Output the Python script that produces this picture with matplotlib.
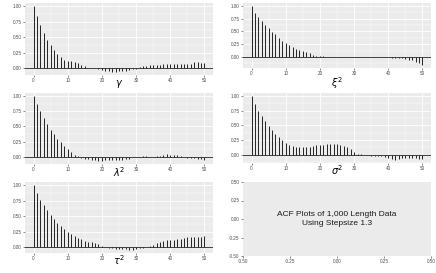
import matplotlib
matplotlib.use("Agg")
import matplotlib.pyplot as plt
import numpy as np

plt.rcParams['font.family'] = ['Liberation Sans', 'DejaVu Sans']

lags = list(range(51))

acf_gamma = [1.0, 0.85, 0.70, 0.565, 0.45, 0.37, 0.30, 0.235, 0.18, 0.14,
             0.115, 0.12, 0.10, 0.08, 0.055, 0.03, 0.005, 0.003, 0.0, -0.015,
             -0.03, -0.04, -0.05, -0.055, -0.055, -0.05, -0.045, -0.04, -0.03, -0.015,
             -0.005, 0.02, 0.03, 0.045, 0.05, 0.055, 0.055, 0.06, 0.065, 0.065,
             0.065, 0.065, 0.065, 0.065, 0.065, 0.065, 0.075, 0.10, 0.10, 0.09,
             0.08]

acf_xi2 = [1.0, 0.87, 0.78, 0.70, 0.62, 0.56, 0.49, 0.44, 0.38, 0.32,
           0.28, 0.235, 0.19, 0.16, 0.13, 0.115, 0.09, 0.07, 0.045, 0.025,
           0.02, 0.015, 0.0, -0.005, -0.01, -0.005, 0.002, 0.003, 0.003, 0.004,
           0.005, 0.005, 0.005, 0.004, 0.003, 0.002, 0.0, -0.003, -0.005, -0.01,
           -0.01, -0.015, -0.02, -0.025, -0.03, -0.045, -0.055, -0.07, -0.095, -0.12,
           -0.16]

acf_lambda2 = [1.0, 0.874, 0.75, 0.64, 0.54, 0.445, 0.37, 0.30, 0.235, 0.18,
               0.125, 0.08, 0.035, 0.005, -0.017, -0.035, -0.045, -0.057, -0.063, -0.068,
               -0.068, -0.063, -0.063, -0.063, -0.063, -0.057, -0.057, -0.045, -0.035, -0.01,
               0.0, 0.002, 0.003, 0.003, 0.002, 0.0, 0.003, 0.01, 0.03, 0.04,
               0.035, 0.035, 0.03, 0.015, 0.0, -0.017, -0.025, -0.03, -0.035, -0.045,
               -0.057]

acf_sigma2 = [1.0, 0.87, 0.75, 0.655, 0.57, 0.485, 0.415, 0.357, 0.30, 0.245,
              0.205, 0.172, 0.148, 0.134, 0.128, 0.123, 0.123, 0.126, 0.14, 0.158,
              0.167, 0.172, 0.178, 0.187, 0.186, 0.183, 0.17, 0.146, 0.123, 0.09,
              0.052, 0.02, 0.003, 0.0, -0.005, -0.018, -0.018, -0.018, -0.023, -0.035,
              -0.053, -0.07, -0.088, -0.076, -0.064, -0.053, -0.058, -0.058, -0.064, -0.07,
              -0.076]

acf_tau2 = [1.0, 0.876, 0.763, 0.672, 0.593, 0.525, 0.452, 0.39, 0.34, 0.294,
            0.25, 0.213, 0.184, 0.152, 0.124, 0.10, 0.085, 0.073, 0.068, 0.05,
            0.023, 0.005, -0.017, -0.023, -0.028, -0.028, -0.034, -0.04, -0.045, -0.045,
            -0.04, -0.023, -0.011, 0.0, 0.017, 0.034, 0.062, 0.08, 0.10, 0.113,
            0.12, 0.12, 0.13, 0.136, 0.147, 0.158, 0.164, 0.164, 0.158, 0.164,
            0.17]

labels = [r'$\gamma$', r'$\xi^2$', r'$\lambda^2$', r'$\sigma^2$', r'$\tau^2$']
series = [acf_gamma, acf_xi2, acf_lambda2, acf_sigma2, acf_tau2]

note_text = "ACF Plots of 1,000 Length Data\nUsing Stepsize 1.3"
empty_ticks = [-0.50, -0.25, 0.00, 0.25, 0.50]

W, H = 436, 273
fig = plt.figure(figsize=(W / 100, H / 100), dpi=100)

# panel boxes in pixels: (left, top, right, bottom)
boxes = [(25, 3, 213, 75), (243, 3, 431, 68),
         (25, 93, 213, 164), (243, 93, 431, 163),
         (25, 182, 213, 253), (243, 182, 431, 256)]
# pixel y of label centres
label_y = [84, 83, 172, 170, 260]

def make_ax(b):
    l, t, r, bt = b
    return fig.add_axes([l / W, 1 - bt / H, (r - l) / W, (bt - t) / H])

def style(ax):
    ax.set_facecolor('#EBEBEB')
    for s in ax.spines.values():
        s.set_visible(False)
    ax.tick_params(axis='both', which='major', length=1.5, width=0.4,
                   color='#333333', labelsize=3.3, labelcolor='#4D4D4D', pad=1)
    ax.tick_params(axis='both', which='minor', length=0)

for i, (lab, vals) in enumerate(zip(labels, series)):
    ax = make_ax(boxes[i])
    style(ax)
    v = np.array(vals)
    lo = min(0.0, v.min())
    hi = max(0.0, v.max())
    pad = 0.05 * (hi - lo)
    ax.set_ylim(lo - pad, hi + pad)
    ax.set_xlim(-2.5, 52.5)
    ax.set_xticks([0, 10, 20, 30, 40, 50])
    ax.set_xticks([5, 15, 25, 35, 45], minor=True)
    yt = [t for t in [-0.25, 0.0, 0.25, 0.5, 0.75, 1.0] if lo - pad <= t <= hi + pad]
    ax.set_yticks(yt)
    ax.set_yticklabels(['%.2f' % t for t in yt])
    ym = [t for t in [-0.125, 0.125, 0.375, 0.625, 0.875] if lo - pad <= t <= hi + pad]
    ax.set_yticks(ym, minor=True)
    ax.grid(True, which='major', color='white', linewidth=0.6)
    ax.grid(True, which='minor', color='white', linewidth=0.3)
    ax.set_axisbelow(True)
    ax.axhline(0, color='#222222', linewidth=0.6, zorder=2)
    ax.vlines(lags, 0, vals, color='#222222', linewidth=0.7, zorder=3)
    l, t, r, bt = boxes[i]
    fig.text((l + r) / 2 / W, 1 - label_y[i] / H, lab, ha='center', va='center',
             fontsize=7, color='black')

ax6 = make_ax(boxes[5])
style(ax6)
ax6.set_xlim(-0.5, 0.5)
ax6.set_ylim(-0.5, 0.5)
ax6.set_xticks(empty_ticks)
ax6.set_xticklabels(['%.2f' % t for t in empty_ticks])
ax6.set_yticks(empty_ticks)
ax6.set_yticklabels(['%.2f' % t for t in empty_ticks])
ax6.text(0, 0, note_text, ha='center', va='center', fontsize=6, color='#1A1A1A',
         linespacing=1.3)

fig.savefig('out.png', dpi=100)
